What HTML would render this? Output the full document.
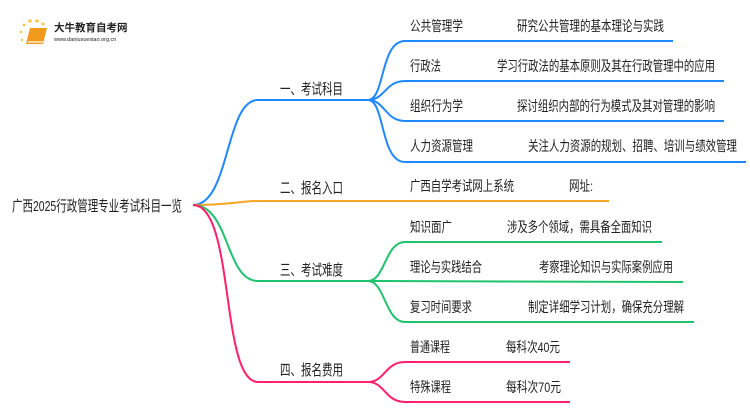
<!DOCTYPE html>
<html><head><meta charset="utf-8"><style>
body{margin:0;background:#fff;}
svg text{font-family:"Liberation Sans","Noto Sans CJK SC",sans-serif;fill:#222;}
</style></head><body>
<svg width="750" height="410" viewBox="0 0 750 410" xmlns="http://www.w3.org/2000/svg">
<g>
<circle cx="24" cy="25" r="1.5" fill="#f7c948"/><circle cx="30" cy="21" r="1.8" fill="#f7c948"/><circle cx="37" cy="21" r="1.8" fill="#f7c948"/><circle cx="43" cy="24" r="1.5" fill="#f7c948"/><circle cx="21" cy="32" r="1.3" fill="#f7c948"/><circle cx="22" cy="40" r="1.2" fill="#f7c948"/>
<path d="M30 28 L47 28 L43 44 L26 44 Z" fill="#f29a1e"/>
<path d="M28 42 L43 42" stroke="#fff" stroke-width="1.2"/>
<text x="54" y="31" font-size="10.5" style="font-weight:bold">大牛教育自考网</text>
<text x="54" y="41" font-size="5.5" fill="#666">www.daniuxuexiao.org.cn</text>
</g>
<g fill="none" stroke-width="2">
<path d="M193 205 C230 205,225 100,258 100 L368 100" stroke="#1e88ff"/>
<path d="M368 100 C385 100,380 41,405 41 L673 41" stroke="#1e88ff"/>
<path d="M368 100 C385 100,385 81,405 81 L724 81" stroke="#1e88ff"/>
<path d="M368 100 C385 100,385 121,405 121 L724 121" stroke="#1e88ff"/>
<path d="M368 100 C385 100,380 162,405 162 L746 162" stroke="#1e88ff"/>
<path d="M193 205 C230 205,240 201,258 201 L609 201" stroke="#f5a623"/>
<path d="M193 205 C230 205,225 281,258 281 L368 281" stroke="#1ec46c"/>
<path d="M368 281 C385 281,385 242,405 242 L662 242" stroke="#1ec46c"/>
<path d="M368 281 L683 282" stroke="#1ec46c"/>
<path d="M368 281 C385 281,385 322,405 322 L694 322" stroke="#1ec46c"/>
<path d="M193 205 C235 205,220 382,258 382 L368 382" stroke="#ff1f6b"/>
<path d="M368 382 C385 382,385 362,405 362 L570 362" stroke="#ff1f6b"/>
<path d="M368 382 C385 382,385 402,405 402 L570 402" stroke="#ff1f6b"/>
</g>
<g font-size="15" lengthAdjust="spacingAndGlyphs">
<text x="12" y="211" textLength="170" lengthAdjust="spacingAndGlyphs">广西2025行政管理专业考试科目一览</text>
<text x="280" y="94" textLength="63" lengthAdjust="spacingAndGlyphs">一、考试科目</text>
<text x="280" y="193" textLength="63" lengthAdjust="spacingAndGlyphs">二、报名入口</text>
<text x="280" y="275" textLength="63" lengthAdjust="spacingAndGlyphs">三、考试难度</text>
<text x="280" y="375" textLength="63" lengthAdjust="spacingAndGlyphs">四、报名费用</text>
</g>
<g font-size="14">
<text x="410" y="31" textLength="53" lengthAdjust="spacingAndGlyphs">公共管理学</text><text x="517" y="31" textLength="147" lengthAdjust="spacingAndGlyphs">研究公共管理的基本理论与实践</text>
<text x="410" y="71" textLength="31" lengthAdjust="spacingAndGlyphs">行政法</text><text x="497" y="71" textLength="218" lengthAdjust="spacingAndGlyphs">学习行政法的基本原则及其在行政管理中的应用</text>
<text x="410" y="111" textLength="53" lengthAdjust="spacingAndGlyphs">组织行为学</text><text x="517" y="111" textLength="198" lengthAdjust="spacingAndGlyphs">探讨组织内部的行为模式及其对管理的影响</text>
<text x="410" y="151" textLength="63" lengthAdjust="spacingAndGlyphs">人力资源管理</text><text x="528" y="151" textLength="209" lengthAdjust="spacingAndGlyphs">关注人力资源的规划、招聘、培训与绩效管理</text>
<text x="410" y="191" textLength="104" lengthAdjust="spacingAndGlyphs">广西自学考试网上系统</text><text x="569" y="191" textLength="24" lengthAdjust="spacingAndGlyphs">网址:</text>
<text x="410" y="232" textLength="42" lengthAdjust="spacingAndGlyphs">知识面广</text><text x="507" y="232" textLength="145" lengthAdjust="spacingAndGlyphs">涉及多个领域，需具备全面知识</text>
<text x="410" y="272" textLength="72" lengthAdjust="spacingAndGlyphs">理论与实践结合</text><text x="539" y="272" textLength="134" lengthAdjust="spacingAndGlyphs">考察理论知识与实际案例应用</text>
<text x="410" y="312" textLength="62" lengthAdjust="spacingAndGlyphs">复习时间要求</text><text x="528" y="312" textLength="156" lengthAdjust="spacingAndGlyphs">制定详细学习计划，确保充分理解</text>
<text x="410" y="352" textLength="40" lengthAdjust="spacingAndGlyphs">普通课程</text><text x="506" y="352" textLength="54" lengthAdjust="spacingAndGlyphs">每科次40元</text>
<text x="410" y="392" textLength="41" lengthAdjust="spacingAndGlyphs">特殊课程</text><text x="506" y="392" textLength="55" lengthAdjust="spacingAndGlyphs">每科次70元</text>
</g>
</svg>
</body></html>
